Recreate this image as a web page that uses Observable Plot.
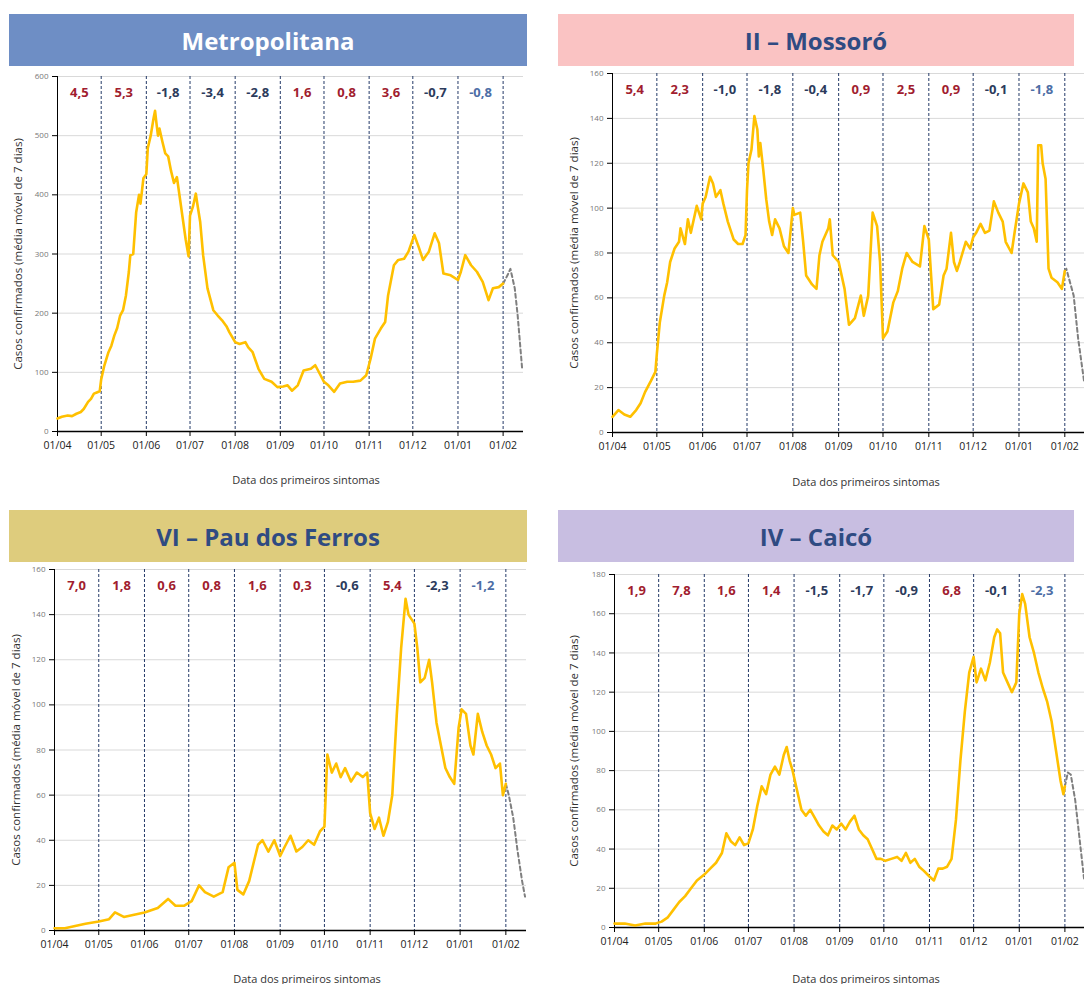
<!DOCTYPE html>
<html>
<head>
<meta charset="utf-8">
<script src="https://cdn.jsdelivr.net/npm/d3@7"></script>
<script src="https://cdn.jsdelivr.net/npm/@observablehq/plot@0.6"></script>
<style>
  body { margin: 0; width: 1084px; height: 984px; position: relative; overflow: hidden; background: #fff; font-family: "Open Sans", sans-serif; }
  .bar { position: absolute; display: flex; align-items: center; justify-content: center; font-weight: 700; font-size: 24px; height: 52px; }
  .chart { position: absolute; }
  .ylab { position: absolute; transform: translate(-50%, -50%) rotate(-90deg); font-size: 11.5px; color: #333; white-space: nowrap; }
  .xlab { position: absolute; transform: translate(-50%, -50%); font-size: 11px; color: #333; white-space: nowrap; }
</style>
</head>
<body>
<script>
// Month starts (x ticks) and their labels
const monthTicks = ["04-01","05-01","06-01","07-01","08-01","09-01","10-01","11-01","12-01","01-01","02-01"];
const tickLabels = ["01/04","01/05","01/06","01/07","01/08","01/09","01/10","01/11","01/12","01/01","01/02"];

// Monthly growth rates printed above each month
const metroRates   = [4.5, 5.3, -1.8, -3.4, -2.8, 1.6, 0.8, 3.6, -0.7, -0.8];
const mossoroRates = [5.4, 2.3, -1.0, -1.8, -0.4, 0.9, 2.5, 0.9, -0.1, -1.8];
const pauRates     = [7.0, 1.8, 0.6, 0.8, 1.6, 0.3, -0.6, 5.4, -2.3, -1.2];
const caicoRates   = [1.9, 7.8, 1.6, 1.4, -1.5, -1.7, -0.9, 6.8, -0.1, -2.3];

// Y tick values per region
const metroYTicks   = [0, 100, 200, 300, 400, 500, 600];
const mossoroYTicks = [0, 20, 40, 60, 80, 100, 120, 140, 160];
const pauYTicks     = [0, 20, 40, 60, 80, 100, 120, 140, 160];
const caicoYTicks   = [0, 20, 40, 60, 80, 100, 120, 140, 160, 180];

// 7-day moving average of confirmed cases (date MM-DD, value)
const metroSeries = [
  ["04-01",22],["04-04",25],["04-08",27],["04-11",26],["04-14",30],["04-17",33],["04-19",38],["04-22",50],["04-24",55],["04-26",64],["04-28",66],["04-30",68],
  ["05-01",88],["05-03",110],["05-06",134],["05-08",145],["05-10",162],["05-12",175],["05-14",196],["05-16",205],["05-18",230],["05-20",270],["05-21",298],["05-23",300],["05-25",370],["05-27",400],["05-28",385],["05-30",428],
  ["06-01",435],["06-02",479],["06-04",500],["06-06",530],["06-07",542],["06-08",520],["06-09",500],["06-10",512],["06-12",490],["06-14",470],["06-16",465],["06-18",440],["06-20",420],["06-22",430],["06-24",395],["06-26",360],["06-28",325],["06-30",296],
  ["07-01",365],["07-03",380],["07-05",402],["07-06",385],["07-08",354],["07-10",298],["07-13",242],["07-17",205],["07-20",196],["07-23",188],["07-26",178],["07-28",168],
  ["08-01",151],["08-04",148],["08-08",151],["08-10",142],["08-13",134],["08-17",106],["08-21",89],["08-26",84],["08-30",75],
  ["09-03",76],["09-06",78],["09-09",69],["09-13",78],["09-17",103],["09-22",106],["09-25",112],["09-28",98],
  ["10-01",84],["10-04",78],["10-08",67],["10-12",81],["10-17",84],["10-21",84],["10-26",86],["10-30",95],
  ["11-02",123],["11-05",157],["11-09",174],["11-12",185],["11-14",230],["11-18",281],["11-21",290],["11-25",292],["11-28",304],
  ["12-02",332],["12-05",312],["12-08",290],["12-12",304],["12-16",335],["12-19",318],["12-22",267],["12-27",264],
  ["01-01",256],["01-03",270],["01-06",298],["01-10",281],["01-14",270],["01-18",253],["01-22",222],["01-25",242],["01-29",244],["02-01",250]
];
const metroTail = [["02-01",250],["02-04",264],["02-06",275],["02-09",242],["02-11",196],["02-14",108]];

const mossoroSeries = [
  ["04-01",7],["04-05",10],["04-09",8],["04-13",7],["04-17",10],["04-20",13],["04-23",18],["04-27",23],["04-30",27],
  ["05-01",35],["05-03",49],["05-06",61],["05-08",67],["05-10",76],["05-13",82],["05-16",85],["05-17",91],["05-20",84],["05-22",95],["05-24",89],["05-28",101],["05-31",95],
  ["06-01",102],["06-03",105],["06-06",114],["06-08",111],["06-09",108],["06-10",105],["06-13",108],["06-15",102],["06-18",94],["06-22",86],["06-25",84],["06-28",84],["06-30",88],
  ["07-01",108],["07-02",120],["07-04",126],["07-06",141],["07-08",135],["07-09",123],["07-10",129],["07-12",117],["07-14",104],["07-16",94],["07-18",88],["07-20",95],["07-23",91],["07-26",83],["07-29",80],
  ["08-01",100],["08-02",97],["08-06",98],["08-08",85],["08-10",70],["08-14",66],["08-17",64],["08-19",79],["08-21",85],["08-25",91],["08-26",95],["08-28",79],
  ["09-01",76],["09-05",64],["09-08",48],["09-12",51],["09-16",61],["09-18",52],["09-21",61],["09-24",98],["09-27",92],["09-29",76],
  ["10-01",42],["10-04",45],["10-08",58],["10-11",63],["10-14",73],["10-17",80],["10-21",76],["10-26",74],["10-29",92],
  ["11-01",86],["11-04",55],["11-08",57],["11-11",70],["11-13",73],["11-16",89],["11-18",76],["11-20",72],["11-22",76],["11-26",85],["11-29",82],
  ["12-01",87],["12-03",89],["12-06",93],["12-09",89],["12-12",90],["12-15",103],["12-18",98],["12-21",94],["12-23",85],["12-27",80],["12-29",89],
  ["01-01",102],["01-04",111],["01-07",107],["01-09",94],["01-11",91],["01-13",85],["01-14",128],["01-16",128],["01-17",120],["01-19",113],["01-21",73],["01-23",69],["01-27",67],["01-30",64],["02-01",72]
];
const mossoroTail = [["02-01",72],["02-02",73],["02-07",61],["02-10",42],["02-14",23]];

const pauSeries = [
  ["04-01",1],["04-08",1],["04-15",2],["04-22",3],["05-01",4],["05-08",5],["05-12",8],["05-18",6],["05-25",7],
  ["06-01",8],["06-10",10],["06-17",14],["06-22",11],["06-28",11],
  ["07-03",13],["07-08",20],["07-12",17],["07-18",15],["07-24",17],["07-28",28],
  ["08-01",30],["08-03",18],["08-07",16],["08-11",22],["08-14",30],["08-17",38],["08-20",40],["08-24",35],["08-28",40],
  ["09-01",33],["09-04",37],["09-08",42],["09-12",35],["09-16",37],["09-20",40],["09-24",38],["09-28",44],
  ["10-01",46],["10-03",78],["10-06",70],["10-09",74],["10-12",68],["10-15",72],["10-19",66],["10-23",70],["10-27",68],["10-30",70],
  ["11-01",52],["11-04",45],["11-07",50],["11-10",42],["11-13",48],["11-16",60],["11-19",95],["11-22",125],["11-25",147],["11-27",140],["11-29",138],
  ["12-01",136],["12-03",125],["12-05",110],["12-08",112],["12-11",120],["12-13",110],["12-16",92],["12-19",82],["12-22",72],["12-25",68],["12-28",65],["12-31",90],
  ["01-02",98],["01-05",96],["01-08",82],["01-10",78],["01-13",96],["01-16",88],["01-19",82],["01-22",78],["01-25",72],["01-28",74],["01-30",60],["02-01",65]
];
const pauTail = [["02-01",65],["02-03",60],["02-06",50],["02-09",35],["02-12",22],["02-14",15]];

const caicoSeries = [
  ["04-01",2],["04-08",2],["04-15",1],["04-22",2],["04-29",2],
  ["05-03",3],["05-07",5],["05-11",9],["05-15",13],["05-19",16],["05-23",20],["05-27",24],
  ["06-01",27],["06-05",30],["06-09",33],["06-13",38],["06-16",48],["06-19",44],["06-22",42],["06-25",46],["06-28",42],
  ["07-01",43],["07-04",50],["07-07",62],["07-10",72],["07-13",68],["07-16",78],["07-19",82],["07-22",78],["07-25",88],["07-27",92],["07-29",85],["07-31",80],
  ["08-03",70],["08-06",60],["08-09",57],["08-12",60],["08-15",56],["08-18",52],["08-21",49],["08-24",47],["08-27",52],["08-30",50],
  ["09-02",53],["09-05",50],["09-08",54],["09-11",57],["09-14",50],["09-17",47],["09-20",45],["09-23",40],["09-26",35],["09-29",35],
  ["10-02",34],["10-06",35],["10-10",36],["10-13",34],["10-16",38],["10-19",33],["10-22",35],["10-25",31],["10-28",29],
  ["11-01",26],["11-04",24],["11-07",30],["11-10",30],["11-13",31],["11-16",35],["11-19",55],["11-22",85],["11-25",110],["11-28",130],
  ["12-01",138],["12-03",125],["12-06",132],["12-09",126],["12-12",135],["12-15",148],["12-17",152],["12-19",150],["12-21",130],["12-24",125],["12-27",120],["12-30",125],
  ["01-01",160],["01-03",170],["01-05",165],["01-08",148],["01-11",140],["01-14",130],["01-17",122],["01-20",115],["01-23",105],["01-26",90],["01-29",75],["01-31",68],["02-01",72]
];
const caicoTail = [["02-01",72],["02-03",79],["02-05",78],["02-08",65],["02-11",45],["02-14",25]];

// ---- helpers ----
function toDate(md) {
  const m = +md.slice(0, 2), d = +md.slice(3);
  return new Date(Date.UTC(m >= 4 ? 2020 : 2021, m - 1, d));
}
const rows = (s) => s.map(([md, v]) => ({date: toDate(md), value: v}));
const monthStarts = monthTicks.map(toDate);
const xDomain = [toDate("04-01"), toDate("02-15")];
const fmtRate = (r) => r.toFixed(1).replace(".", ",");

const POS = "#a11d2f", NEG = "#2c3b5c", LAST = "#4d6ea6";

function addDiv(cls, text, css) {
  const el = document.createElement("div");
  el.className = cls;
  el.textContent = text;
  Object.assign(el.style, css);
  document.body.appendChild(el);
  return el;
}

function drawPanel(p) {
  // title bar
  addDiv("bar", p.title, {left: p.bar[0] + "px", top: p.bar[1] + "px", width: p.bar[2] + "px",
    background: p.barColor, color: p.titleColor});

  const svgLeft = p.svgLeft, svgTop = p.bar[1] + 52;
  const width = p.plotRight - svgLeft + 5;
  const marginBottom = 30;
  const height = p.yBottom - svgTop + marginBottom;

  const rateRows = p.rates.map((r, i) => ({
    date: new Date((+monthStarts[i] + +monthStarts[i + 1]) / 2),
    text: fmtRate(r),
    color: i === p.rates.length - 1 ? LAST : (r > 0 ? POS : NEG)
  }));
  const yMax = p.yTicks[p.yTicks.length - 1];

  const chart = Plot.plot({
    width, height,
    marginLeft: p.plotLeft - svgLeft,
    marginRight: 5,
    marginTop: p.yTop - svgTop,
    marginBottom,
    style: {fontFamily: "'Open Sans', sans-serif", background: "transparent", overflow: "visible"},
    x: {type: "utc", domain: xDomain},
    y: {domain: [0, yMax]},
    marks: [
      Plot.ruleY(p.yTicks.slice(1), {stroke: "#d9d9d9", strokeWidth: 1}),
      Plot.ruleX(monthStarts.slice(1), {stroke: "#243a68", strokeWidth: 1, strokeDasharray: "3,2"}),
      Plot.axisY({ticks: p.yTicks, tickSize: 5, tickPadding: 4, fontSize: 8, stroke: "#000", fill: "#777", label: null}),
      Plot.axisX({ticks: monthStarts, tickSize: 5, tickPadding: 5, fontSize: 10.5, stroke: "#000", fill: "#222", label: null,
        tickFormat: (d) => tickLabels[monthStarts.findIndex((m) => +m === +d)]}),
      Plot.ruleX([xDomain[0]], {stroke: "#000", strokeWidth: 1}),
      Plot.ruleY([0], {stroke: "#000", strokeWidth: 1.5}),
      Plot.line(rows(p.tail), {x: "date", y: "value", stroke: "#7f7f7f", strokeWidth: 2, strokeDasharray: "4,3"}),
      Plot.line(rows(p.series), {x: "date", y: "value", stroke: "#ffc000", strokeWidth: 2.6, strokeLinejoin: "round"}),
      Plot.text(rateRows, {x: "date", y: () => yMax, dy: 16, text: "text", fill: "color", fontSize: 13, fontWeight: "bold"})
    ]
  });
  chart.classList.add("chart");
  chart.style.left = svgLeft + "px";
  chart.style.top = svgTop + "px";
  document.body.appendChild(chart);

  addDiv("ylab", p.yLabel, {left: p.yLabelX + "px", top: (p.yTop + p.yBottom) / 2 + "px"});
  addDiv("xlab", "Data dos primeiros sintomas", {left: p.xLabel[0] + "px", top: p.xLabel[1] + "px"});
}

const yLabelText = "Casos confirmados (média móvel de 7 dias)";

drawPanel({title: "Metropolitana", bar: [9, 14, 518], barColor: "#6e8ec5", titleColor: "#ffffff",
  svgLeft: 0, plotLeft: 57, plotRight: 523, yTop: 76, yBottom: 431,
  yTicks: metroYTicks, rates: metroRates, series: metroSeries, tail: metroTail,
  yLabel: yLabelText, yLabelX: 17, xLabel: [306, 479]});

drawPanel({title: "II – Mossoró", bar: [558, 14, 516], barColor: "#fac3c3", titleColor: "#2f4b82",
  svgLeft: 545, plotLeft: 612, plotRight: 1085, yTop: 73, yBottom: 432,
  yTicks: mossoroYTicks, rates: mossoroRates, series: mossoroSeries, tail: mossoroTail,
  yLabel: yLabelText, yLabelX: 573, xLabel: [866, 481]});

drawPanel({title: "VI – Pau dos Ferros", bar: [9, 510, 518], barColor: "#decc7d", titleColor: "#2f4b82",
  svgLeft: 0, plotLeft: 54, plotRight: 526, yTop: 569, yBottom: 930,
  yTicks: pauYTicks, rates: pauRates, series: pauSeries, tail: pauTail,
  yLabel: yLabelText, yLabelX: 15, xLabel: [307, 978]});

drawPanel({title: "IV – Caicó", bar: [558, 510, 516], barColor: "#c8bee1", titleColor: "#2f4b82",
  svgLeft: 545, plotLeft: 614, plotRight: 1085, yTop: 574, yBottom: 927,
  yTicks: caicoYTicks, rates: caicoRates, series: caicoSeries, tail: caicoTail,
  yLabel: yLabelText, yLabelX: 573, xLabel: [866, 978]});
</script>
</body>
</html>
